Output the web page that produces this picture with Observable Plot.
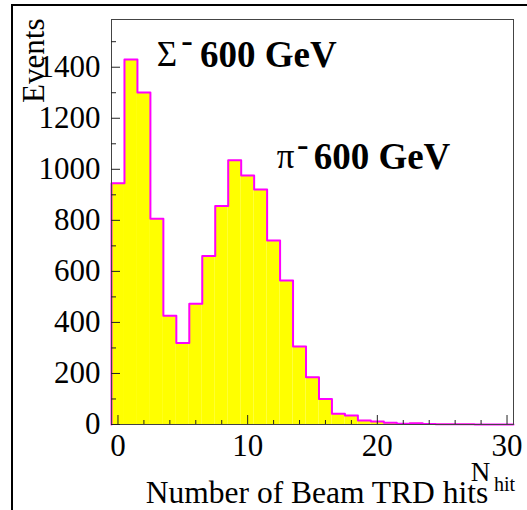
<!DOCTYPE html>
<html>
<head>
<meta charset="utf-8">
<script src="https://cdn.jsdelivr.net/npm/d3@7"></script>
<script src="https://cdn.jsdelivr.net/npm/@observablehq/plot@0.6"></script>
<style>
  html, body { margin: 0; padding: 0; background: #fff; }
  #wrap { position: relative; width: 527px; height: 510px; overflow: hidden; }
  #border { position: absolute; left: 11px; top: 4px; width: 600px; height: 600px;
            border-left: 2px solid #000; border-top: 2px solid #000; pointer-events: none; }
</style>
</head>
<body>
<div id="wrap"><div id="chart"></div><div id="border"></div></div>
<script>
// Histogram: Number of Beam TRD hits (bins of width 1 centred on integers)
const binCenters = d3.range(0, 31);
const counts = [945, 1430, 1301, 806, 426, 319, 473, 660, 856, 1035, 976, 921, 721, 564, 306, 185, 100, 42, 35, 16, 12, 7, 3, 5, 2, 1, 1, 1, 0, 0, 0];
const yTicksMajor = [0, 200, 400, 600, 800, 1000, 1200, 1400];
const yTicksMinor = d3.range(100, 1600, 200);
const xTicksMajor = [0, 10, 20, 30];
const xTicksMinor = d3.range(2, 31, 2).filter(d => d % 10 !== 0);
const particleLabels = [
  {x: 2.99, y: 1405, text: "Σ"},
  {x: 12.25, y: 1006, text: "π"}
];
const energyLabels = [
  {x: 6.32, y: 1400, text: "600 GeV"},
  {x: 15.09, y: 1003, text: "600 GeV"}
];
const supers = [
  {x: 4.97, y: 1500},
  {x: 13.9, y: 1090}
];

const bins = binCenters.map((c, i) => ({x1: c - 0.5, x2: c + 0.5, y: counts[i]}));
const steps = [{x: -0.5, y: 0}];
bins.forEach(b => { steps.push({x: b.x1, y: b.y}); steps.push({x: b.x2, y: b.y}); });
steps.push({x: 30.5, y: 0});

const serif = "Liberation Serif";

const plot = Plot.plot({
  width: 527,
  height: 510,
  marginLeft: 111,
  marginRight: 14,
  marginTop: 19,
  marginBottom: 86,
  style: {background: "#fff", overflow: "visible"},
  x: {domain: [-0.5, 30.5]},
  y: {domain: [0, 1587]},
  marks: [
    Plot.rectY(bins, {x1: "x1", x2: "x2", y: "y", fill: "#ffff00", inset: 0}),
    Plot.line(steps, {x: "x", y: "y", stroke: "#ff00ff", strokeWidth: 2}),
    Plot.frame({stroke: "#444", strokeWidth: 1}),
    // y axis: labels and inward ticks
    Plot.axisY({ticks: yTicksMajor, tickSize: 0, tickPadding: 11, fontSize: 31, fontFamily: serif, label: null, tickFormat: d => String(d), color: "#000"}),
    Plot.axisY({ticks: yTicksMajor, tickSize: -9, text: null, label: null, stroke: "#222"}),
    Plot.axisY({ticks: yTicksMinor, tickSize: -5, text: null, label: null, stroke: "#222"}),
    // x axis
    Plot.axisX({ticks: xTicksMajor, tickSize: 0, tickPadding: 9, fontSize: 31, fontFamily: serif, label: null, tickFormat: d => String(d), color: "#000"}),
    Plot.axisX({ticks: xTicksMajor, tickSize: -9, text: null, label: null, stroke: "#222"}),
    Plot.axisX({ticks: xTicksMinor, tickSize: -4, text: null, label: null, stroke: "#222"}),
    // annotations
    Plot.text(particleLabels, {x: "x", y: "y", text: "text", fontSize: 35, fontFamily: serif, textAnchor: "start", lineAnchor: "bottom", fill: "#000"}),
    Plot.text(energyLabels, {x: "x", y: "y", text: "text", fontSize: 37, fontWeight: "bold", fontFamily: serif, textAnchor: "start", lineAnchor: "bottom", fill: "#000"}),
    Plot.text(supers, {x: "x", y: "y", text: () => "▬", fontSize: 9, textAnchor: "start", lineAnchor: "middle", fill: "#000"}),
    // axis titles
    Plot.text(["Number of Beam TRD hits"], {x: 28.55, frameAnchor: "bottom", dy: 78, text: d => d, fontSize: 31.5, fontFamily: serif, textAnchor: "end", lineAnchor: "bottom", fill: "#000"}),
    Plot.text(["N"], {x: 27.2, frameAnchor: "bottom", dy: 56, text: d => d, fontSize: 27, fontFamily: serif, textAnchor: "start", lineAnchor: "bottom", fill: "#000"}),
    Plot.text(["hit"], {x: 29.0, frameAnchor: "bottom", dy: 66, text: d => d, fontSize: 20, fontFamily: serif, textAnchor: "start", lineAnchor: "bottom", fill: "#000"}),
    Plot.text(["Events"], {frameAnchor: "top-left", dx: -68, dy: -1, rotate: -90, text: d => d, fontSize: 31, fontFamily: serif, textAnchor: "end", lineAnchor: "bottom", fill: "#000"})
  ]
});
document.getElementById("chart").appendChild(plot);
</script>
</body>
</html>
